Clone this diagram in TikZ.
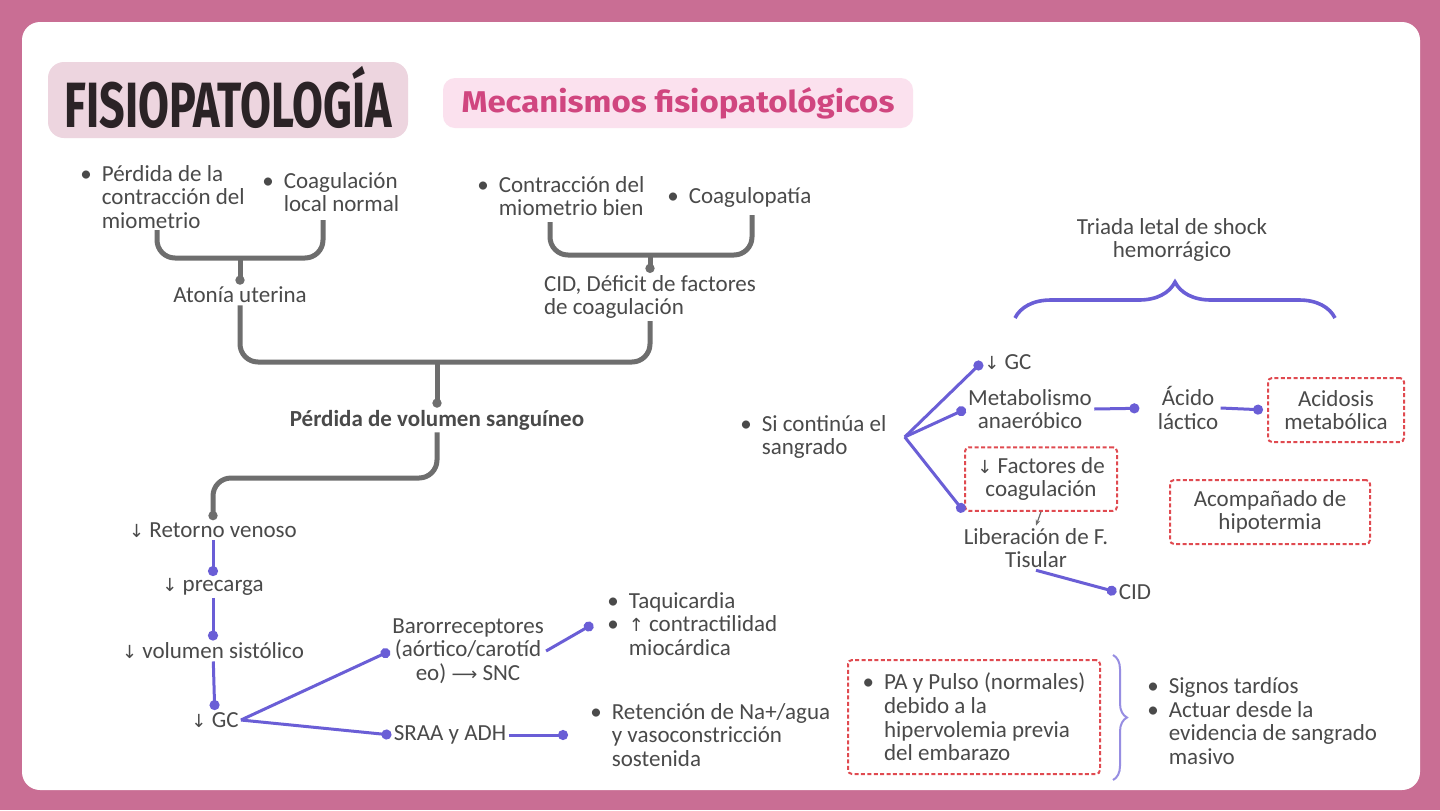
\documentclass[tikz,border=0pt]{standalone}
\usepackage{fontspec}
\setmainfont{Carlito}
\newfontfamily\titlefont{Fira Sans}
\newfontfamily\symfont{DejaVu Sans}
\usetikzlibrary{arrows.meta,positioning,decorations.pathreplacing}
\definecolor{framepink}{HTML}{C96E94}
\definecolor{titlefill}{HTML}{EDD5DF}
\definecolor{titletext}{HTML}{2B2326}
\definecolor{subfill}{HTML}{FBE1EE}
\definecolor{subtext}{HTML}{D0467F}
\definecolor{txtgray}{HTML}{4A4A4A}
\definecolor{linegray}{HTML}{6E6E6E}
\definecolor{bluel}{HTML}{6A5ED6}
\definecolor{redd}{HTML}{E04A50}
\newcommand{\dn}{{\symfont\small ↓}}
\newcommand{\up}{{\symfont\small ↑}}
\newcommand{\bl}{\textbullet\hspace{5pt}}
\newcommand{\ind}{\phantom{\textbullet}\hspace{5pt}}

\begin{document}
\begin{tikzpicture}[x=0.5pt, y=-0.5pt, every node/.style={font=\fontsize{11.5}{11.8}\selectfont, text=txtgray, inner sep=1pt}, gline/.style={draw=linegray, line width=2.5pt, rounded corners=9pt}, gdot/.style={gline, -{Circle[length=4.5pt]}}, bline/.style={draw=bluel, line width=1.5pt, -{Circle[length=5pt]}}, redbox/.style={draw=redd, dash pattern=on 2pt off 1.2pt, line width=1pt, rounded corners=2pt, inner sep=5pt, align=center}]
\fill[framepink] (0,0) rectangle (1440,810);
\fill[white, rounded corners=9pt] (22,22) rectangle (1420,790);
\useasboundingbox (0,0) rectangle (1440,810);

\node[fill=titlefill, rounded corners=8pt, minimum width=180pt, minimum height=38pt] (title) at (228,100) {\raisebox{3pt}{\titlefont\bfseries\fontsize{32}{32}\selectfont\color{titletext}\scalebox{0.7}[1]{FISIOPATOLOGÍA}}};
\node[fill=subfill, rounded corners=6pt, minimum width=235pt, minimum height=25pt] (subtitle) at (678,103) {\titlefont\bfseries\fontsize{15}{15}\selectfont\color{subtext}\scalebox{1.1}[1]{Mecanismos fisiopatológicos}};

\node[align=left, anchor=west] (perdida) at (78,197) {\bl Pérdida de la\\\ind contracción del\\\ind miometrio};
\node[align=left, anchor=west] (coaglocal) at (260,192) {\bl Coagulación\\\ind local normal};
\node (atonia) at (240,295) {Atonía uterina};
\node[align=left, anchor=west] (contraccion) at (475,196) {\bl Contracción del\\\ind miometrio bien};
\node[align=left, anchor=west] (coagulopatia) at (665,197) {\bl Coagulopatía};
\node[align=left] (cid) at (650,297) {CID, Déficit de factores\\de coagulación};
\node[font=\fontsize{11.5}{11.8}\selectfont\bfseries] (perdvol) at (437,420) {Pérdida de volumen sanguíneo};
\node (retorno) at (213,530) {\dn\ Retorno venoso};
\node (precarga) at (213,587) {\dn\ precarga};
\node (sistolico) at (213,651) {\dn\ volumen sistólico};
\node (gc) at (215,720) {\dn\ GC};
\node[align=center] (baro) at (468,651) {Barorreceptores\\(aórtico/carotíd\\eo) {\symfont\small ⟶} SNC};
\node (sraa) at (450,735) {SRAA y ADH};
\node[align=left, anchor=west] (taqui) at (605,624) {\bl Taquicardia\\\bl \up\ contractilidad\\\ind miocárdica};
\node[align=left, anchor=west] (retencion) at (588,735) {\bl Retención de Na+/agua\\\ind y vasoconstricción\\\ind sostenida};

\coordinate (b1l) at (157,230); \coordinate (b1m) at (240,258); \coordinate (b1r) at (323,220);
\draw[gline] (b1l) |- (b1m) -| (b1r);
\draw[gdot] (b1m) -- (atonia.north);
\coordinate (b2l) at (550,222); \coordinate (b2m) at (650,255); \coordinate (b2r) at (752,215);
\draw[gline] (b2l) |- (b2m) -| (b2r);
\draw[gdot] (b2m) -- (cid.north);
\coordinate (b3m) at (437,362);
\draw[gline] (atonia.south) |- (b3m) -| (cid.south);
\draw[gdot] (b3m) -- (perdvol.north);
\coordinate (turn) at (213,478);
\draw[gdot] (perdvol.south) |- (turn) -- (retorno.north);

\draw[bline] (retorno) -- (precarga);
\draw[bline] (precarga) -- (sistolico);
\draw[bline] (sistolico) -- (gc);
\draw[bline] (gc.east) -- (baro.west);
\draw[bline] (gc.east) -- (sraa.west);
\draw[bline] (baro.east) -- ([xshift=-6pt]taqui.west);
\draw[bline, shorten >=10pt] (sraa.east) -- (retencion.west);

\node[align=center] (triada) at (1172,240) {Triada letal de shock\\hemorrágico};
\draw[draw=bluel, line width=1.8pt, decorate, decoration={brace, amplitude=18pt}] (1015,318) -- (1335,318);
\node[align=left, anchor=west] (sicont) at (738,437) {\bl Si continúa el\\\ind sangrado};
\coordinate (hub) at ([xshift=8pt]sicont.east);
\node[anchor=west] (dgc) at (982,362) {\dn\ GC};
\node[align=center] (meta) at (1030,409) {Metabolismo\\anaeróbico};
\node[align=center] (acido) at (1188,408) {Ácido\\láctico};
\node[redbox, minimum width=68pt, minimum height=32pt] (acidosis) at (1336,410) {Acidosis\\metabólica};
\node[redbox, minimum width=76pt, minimum height=31pt] (factores) at (1041,479) {\dn\ Factores de\\coagulación};
\node[align=center] (liberacion) at (1036,548) {Liberación de F.\\Tisular};
\node (cid2) at (1135,592) {CID};
\node[redbox, minimum width=100pt, minimum height=32pt] (hipotermia) at (1270,512) {Acompañado de\\hipotermia};
\node[redbox, align=left, minimum width=126pt, minimum height=57pt] (pa) at (974,717) {\bl PA y Pulso (normales)\\\ind debido a la\\\ind hipervolemia previa\\\ind del embarazo};
\node[align=left, anchor=west] (signos) at (1145,721) {\bl Signos tardíos\\\bl Actuar desde la\\\ind evidencia de sangrado\\\ind masivo};

\draw[bline] (hub) -- (dgc.west);
\draw[bline] (hub) -- (meta.west);
\draw[bline] (hub) -- (factores.south west);
\draw[bline, shorten >=8pt] (meta.east) -- (acido.west);
\draw[bline, shorten >=2pt] (acido.east) -- (acidosis.west);
\draw[draw=linegray, line width=0.6pt, -{Stealth[length=3pt]}] (factores.south) -- (liberacion.north);
\draw[bline] (liberacion.south) -- (cid2.west);
\draw[draw=bluel!70, line width=1pt, decorate, decoration={brace, amplitude=7pt}] (1113,655) -- (1113,780);
\end{tikzpicture}
\end{document}
